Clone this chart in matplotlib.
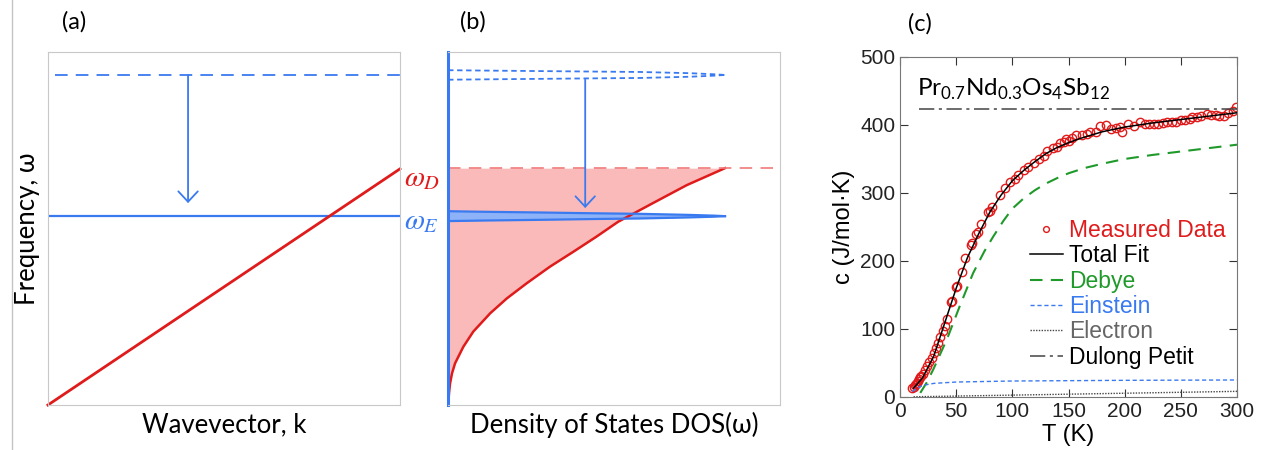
import numpy as np
import matplotlib
matplotlib.use("Agg")
import matplotlib.pyplot as plt
from matplotlib.lines import Line2D

# Colores
AZUL = "#3a7af0"
ROJO = "#e01b1b"
ROSA = "#fbbaba"
VERDE = "#1f9a2a"

# ---- Datos panel (a): relación de dispersión (coordenadas fraccionarias) ----
k_acustico = [0.0, 1.0]
w_acustico = [0.0, 0.669]
w_einstein = 0.535
w_einstein_alto = 0.935
w_debye = 0.671

# ---- Datos panel (b): densidad de estados ----
w_dos = [0.0, 0.009, 0.035, 0.061, 0.09, 0.118, 0.165, 0.208, 0.260, 0.302,
         0.345, 0.392, 0.434, 0.477, 0.519, 0.572, 0.623, 0.671]
dos_debye = [0.0, 0.001, 0.003, 0.006, 0.012, 0.021, 0.046, 0.076, 0.127, 0.177,
             0.237, 0.307, 0.377, 0.447, 0.512, 0.617, 0.719, 0.834]
dos_pico = [0.0, 0.1, 0.277, 0.45, 0.578, 0.729, 0.80, 0.834]
ancho_pico = [0.014, 0.0125, 0.0104, 0.008, 0.0066, 0.0035, 0.0015, 0.0]
ancho_pico_alto = [0.0135, 0.0125, 0.011, 0.0095, 0.0085, 0.005, 0.002, 0.0]

# ---- Datos panel (c): calor específico ----
T_med = [11, 12, 13, 14, 15, 16, 17, 18, 19, 20, 22, 24, 26, 28, 30, 32, 34, 36,
         38, 40, 42, 45, 46, 50, 51, 55, 58, 63, 64, 68, 69, 72, 78, 80, 82, 89,
         93, 98, 102, 105, 110, 114, 119, 124, 128, 131, 136, 140, 142, 146, 148,
         150, 153, 157, 162, 166, 169, 174, 178, 183, 188, 192, 196, 198, 203,
         208, 214, 218, 222, 226, 230, 234, 238, 242, 246, 250, 254, 258, 260,
         264, 268, 273, 277, 281, 284, 288, 292, 296, 299]
c_med = [13, 15, 17, 19, 21, 24, 26, 29, 31, 34, 39, 46, 52, 58, 64, 72, 80, 88,
         97, 104, 115, 140, 141, 162, 163, 184, 205, 224, 226, 240, 243, 255,
         272, 274, 280, 297, 307, 316, 321, 326, 334, 338, 344, 350, 354, 361,
         366, 368, 373, 375, 379, 376, 381, 385, 385, 386, 389, 390, 398, 400,
         394, 395, 397, 390, 401, 399, 405, 402, 402, 402, 402, 403, 404, 405,
         405, 408, 407, 409, 412, 411, 413, 416, 415, 414, 413, 413, 418, 421, 427]

T_fit = [12, 20, 30, 40, 50, 60, 70, 80, 90, 100, 110, 120, 130, 140, 150, 160,
         180, 200, 225, 250, 275, 300]
c_total = [13, 28, 60, 110, 160, 205, 240, 272, 297, 318, 333, 346, 358, 367,
           374, 380, 390, 397, 403, 408, 413, 418]

T_debye = [18, 24, 30, 42, 53, 65, 75, 83, 92, 100, 110, 120, 130, 140, 150,
           165, 180, 200, 225, 250, 275, 300]
c_debye = [6, 22, 42, 86, 133, 182, 214, 236, 259, 277, 292, 304, 314, 322,
           329, 337, 343, 350, 356, 361, 366, 371]

T_einstein = [11, 15, 20, 30, 50, 100, 200, 300]
c_einstein = [8, 13, 17, 20, 22, 23.5, 24.5, 25]

T_electron = [12, 300]
c_electron = [0.3, 8.3]

T_dulong = [17, 300]
c_dulong = [423, 423]

etiquetas = ["Measured Data", "Total Fit", "Debye", "Einstein", "Electron",
             "Dulong Petit"]

FLECHA = dict(arrowstyle="->,head_length=0.75,head_width=0.7",
              color=AZUL, lw=1.3, shrinkA=0, shrinkB=0)


def panel_a(ax):
    ax.set_xlim(0, 1)
    ax.set_ylim(0, 1)
    ax.axhline(w_einstein_alto, xmin=0.02, color=AZUL, lw=1.3, ls=(0, (7, 4.5)))
    ax.axhline(w_einstein, color=AZUL, lw=1.6)
    ax.plot(k_acustico, w_acustico, color=ROJO, lw=2, clip_on=False)
    ax.annotate("", xy=(0.398, 0.572), xytext=(0.398, w_einstein_alto),
                arrowprops=FLECHA)
    ax.text(1.012, 0.643, r"$\omega_D$", color=ROJO, fontsize=21,
            math_fontfamily="stix", va="center", ha="left", clip_on=False)
    ax.text(1.012, 0.522, r"$\omega_E$", color=AZUL, fontsize=21,
            math_fontfamily="stix", va="center", ha="left", clip_on=False)
    ax.set_xticks([])
    ax.set_yticks([])
    for s in ax.spines.values():
        s.set_color("#c8c8c8")
    ax.set_xlabel("Wavevector, k", fontsize=18.5, fontfamily="Lato", labelpad=5)
    ax.set_ylabel("Frequency, ω", fontsize=18.5, fontfamily="Lato", labelpad=6)


def panel_b(ax):
    ax.set_xlim(0, 1)
    ax.set_ylim(0, 1)
    ax.fill_betweenx(w_dos, 0, dos_debye, color=ROSA, lw=0)
    ax.plot(dos_debye, w_dos, color=ROJO, lw=1.8)
    ax.axhline(w_debye, color="#f07a7a", lw=1.2, ls=(0, (7.5, 5)))
    # Pico de Einstein
    d = np.array(dos_pico)
    h = np.array(ancho_pico)
    ax.fill_between(d, w_einstein - h, w_einstein + h, color="#8db2f7", lw=0)
    ax.plot(d, w_einstein + h, color=AZUL, lw=1.6)
    ax.plot(d, w_einstein - h, color=AZUL, lw=1.6)
    # Pico ancho (punteado) arriba
    h2 = np.array(ancho_pico_alto)
    ax.plot(d, w_einstein_alto + h2, color=AZUL, lw=1.3, ls=(0, (3, 2)))
    ax.plot(d, w_einstein_alto - h2, color=AZUL, lw=1.3, ls=(0, (3, 2)))
    ax.annotate("", xy=(0.413, 0.558), xytext=(0.413, w_einstein_alto - 0.013),
                arrowprops=FLECHA)
    ax.set_xticks([])
    ax.set_yticks([])
    for s in ax.spines.values():
        s.set_color("#c8c8c8")
    ax.spines["left"].set_color(AZUL)
    ax.spines["left"].set_linewidth(2.2)
    ax.set_xlabel("Density of States DOS(ω)", fontsize=18.5, fontfamily="Lato",
                  labelpad=5)


def panel_c(ax):
    med, = ax.plot(T_med, c_med, "o", mfc="none", mec=ROJO, ms=6, mew=1)
    tot, = ax.plot(T_fit, c_total, color="black", lw=1.1)
    deb, = ax.plot(T_debye, c_debye, color=VERDE, lw=1.5, ls=(0, (6, 4)))
    ein, = ax.plot(T_einstein, c_einstein, color=AZUL, lw=1, ls=(0, (3, 2)))
    ele, = ax.plot(T_electron, c_electron, color="#444444", lw=1, ls=(0, (1, 1)))
    dul, = ax.plot(T_dulong, c_dulong, color="#444444", lw=1.1,
                   ls=(0, (10, 3, 2, 3)))
    ax.set_xlim(0, 300)
    ax.set_ylim(0, 500)
    ax.set_xticks(range(0, 301, 50))
    ax.set_yticks(range(0, 501, 100))
    ax.tick_params(direction="in", top=True, right=True, length=6,
                   labelsize=15, colors="#333333", labelcolor="#222222")
    for lab in ax.get_xticklabels() + ax.get_yticklabels():
        lab.set_fontfamily("Liberation Sans")
    for s in ax.spines.values():
        s.set_color("#777777")
    ax.set_xlabel("T (K)", fontsize=17, fontfamily="Liberation Sans", labelpad=2)
    ax.set_ylabel("c (J/mol·K)", fontsize=17, fontfamily="Liberation Sans",
                  labelpad=4)
    ax.text(0.05, 0.905,
            r"Pr$_\mathregular{0.7}$Nd$_\mathregular{0.3}$Os$_\mathregular{4}$Sb$_\mathregular{12}$",
            transform=ax.transAxes, fontsize=17.5, fontfamily="Lato", va="center")
    ax.legend([med, tot, deb, ein, ele, dul], etiquetas, loc="upper left",
              bbox_to_anchor=(0.385, 0.523), frameon=False,
              prop={"family": "Liberation Sans", "size": 16.5},
              labelcolor=[ROJO, "black", VERDE, AZUL, "#666666", "black"],
              handlelength=1.45, handletextpad=0.25, borderpad=0,
              borderaxespad=0, labelspacing=0.1, markerscale=0.7)


fig = plt.figure(figsize=(12.65, 4.5), dpi=100)
ax_a = fig.add_axes([0.0379, 0.1, 0.2783, 0.7844])
ax_b = fig.add_axes([0.3542, 0.1, 0.2625, 0.7844])
ax_c = fig.add_axes([0.7115, 0.1178, 0.2664, 0.7556])

panel_a(ax_a)
panel_b(ax_b)
panel_c(ax_c)

for xp, yp, txt in [(74, 22, "(a)"), (473, 22, "(b)"), (920, 24, "(c)")]:
    fig.text(xp / 1265, 1 - yp / 450, txt, fontsize=17, fontfamily="Lato",
             ha="center", va="center")

# Línea separadora a la izquierda
fig.add_artist(Line2D([12 / 1265, 12 / 1265], [0, 1], color="#c4c4c4", lw=1))

fig.savefig("out.png", dpi=100)
